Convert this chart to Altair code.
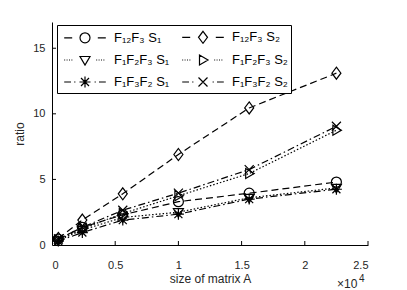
import re
import altair as alt
import pandas as pd

# ---- data ----
sizes = [500, 2400, 5600, 10000, 15600, 22500]
# legend is filled column by column: first column S1, second column S2
series = ["F₁₂F₃ S₁", "F₁F₂F₃ S₁", "F₁F₃F₂ S₁", "F₁₂F₃ S₂", "F₁F₂F₃ S₂", "F₁F₃F₂ S₂"]
r_f12f3_s1 = [0.45, 1.35, 2.3, 3.3, 3.95, 4.8]
r_f1f2f3_s1 = [0.35, 1.15, 2.1, 2.5, 3.6, 4.35]
r_f1f3f2_s1 = [0.3, 0.95, 1.9, 2.35, 3.5, 4.25]
r_f12f3_s2 = [0.5, 1.9, 3.9, 6.9, 10.45, 13.1]
r_f1f2f3_s2 = [0.4, 1.25, 2.4, 3.75, 5.45, 8.75]
r_f1f3f2_s2 = [0.45, 1.35, 2.65, 3.95, 5.75, 9.05]
x_ticks = [5000, 10000, 15000, 20000, 25000]
y_ticks = [5, 10, 15]

values = [r_f12f3_s1, r_f1f2f3_s1, r_f1f3f2_s1, r_f12f3_s2, r_f1f2f3_s2, r_f1f3f2_s2]
rows = []
for name, vals in zip(series, values):
    for s, v in zip(sizes, vals):
        rows.append({"series": name, "size": s, "ratio": v})
df = pd.DataFrame(rows)

# ---- styles (marker paths in unit coords) ----
circle = "M0.5,0A0.5,0.5 0 1,1 -0.5,0A0.5,0.5 0 1,1 0.5,0Z"
diamond = "M0,-0.6L0.45,0L0,0.6L-0.45,0Z"
tri_down = "M-0.5,-0.35L0.5,-0.35L0,0.5Z"
tri_right = "M-0.35,-0.5L-0.35,0.5L0.5,0Z"
aster = "M-0.55,0L0.55,0M0,-0.55L0,0.55M-0.4,-0.4L0.4,0.4M-0.4,0.4L0.4,-0.4"
xmark = "M-0.45,-0.45L0.45,0.45M-0.45,0.45L0.45,-0.45"
markers = [circle, tri_down, aster, diamond, tri_right, xmark]
dash_d, dash_o, dash_dd = [7, 4], [1.5, 2], [7, 3, 1.5, 3]
dashes = [dash_d, dash_o, dash_dd, dash_d, dash_o, dash_dd]


def mk(k, path, dx=0.0):
    """scale a path by k and shift it by dx (x only, absolute commands)."""
    parts = re.split(r"([MLHVAZh])", path)
    res, cmd = "", ""
    for p in parts:
        if p in ("M", "L", "H", "V", "A", "Z", "h"):
            cmd = p
            res += p
            continue
        if not p.strip():
            continue
        nums = [float(n) for n in re.split(r"[ ,]", p.strip()) if n]
        if cmd == "A":
            r = [nums[0] * k, nums[1] * k, nums[2], nums[3], nums[4], nums[5] * k + dx, nums[6] * k]
            res += f"{r[0]:.4g},{r[1]:.4g} {r[2]:g} {r[3]:g},{r[4]:g} {r[5]:.4g},{r[6]:.4g}"
        elif cmd == "H":
            res += ",".join(f"{n * k + dx:.4g}" for n in nums)
        elif cmd == "h":
            res += ",".join(f"{n * k:.4g}" for n in nums)
        else:
            out = []
            for j, n in enumerate(nums):
                out.append(f"{n * k + (dx if j % 2 == 0 else 0):.4g}")
            res += ",".join(out)
    return res


PT_SIZE = 400          # plot markers: unit = 10 px
LG_SIZE = 256          # legend symbol area: unit = 8 px
kk = 10 / 8            # keep legend markers as big as plot markers
SHIFT = 2.0            # push legend glyph to the right inside its symbol slot
line_dash = "M-2.6,0H-1.6M1.6,0H2.6"
line_dot = "".join(f"M{-2.6 + 0.3 * i:.2f},0h0.12" for i in range(4)) + "".join(
    f"M{1.4 + 0.3 * i:.2f},0h0.12" for i in range(4))
line_dashdot = "M-2.6,0H-1.75M-1.35,0H-1.2M1.2,0H1.35M1.75,0H2.6"
legend_lines = [line_dash, line_dot, line_dashdot, line_dash, line_dot, line_dashdot]
legend_paths = [mk(1.0, ln, SHIFT) + mk(kk, m, SHIFT) for ln, m in zip(legend_lines, markers)]

W, H = 316, 223
FONT = "Liberation Sans"
GREY = "#262626"

xs = alt.X("size:Q", scale=alt.Scale(domain=[0, 25000], nice=False),
           axis=alt.Axis(values=[0] + x_ticks, labelExpr="datum.value / 10000",
                         title="size of matrix A"))
ys = alt.Y("ratio:Q", scale=alt.Scale(domain=[0, 17], nice=False),
           axis=alt.Axis(values=[0] + y_ticks, title="ratio"))

base = alt.Chart(df)
lines = base.mark_line(color="black", strokeWidth=1.2).encode(
    x=xs, y=ys,
    strokeDash=alt.StrokeDash("series:N", scale=alt.Scale(domain=series, range=dashes), legend=None),
)
points = base.mark_point(filled=False, color="black", strokeWidth=1.2, size=PT_SIZE, opacity=1).encode(
    x=xs, y=ys,
    shape=alt.Shape("series:N", scale=alt.Scale(domain=series, range=markers), legend=None),
)
legend_layer = base.mark_point(filled=False, color="black", strokeWidth=1.2, size=LG_SIZE, opacity=1).encode(
    shape=alt.Shape("series:N", scale=alt.Scale(domain=series, range=legend_paths),
                    legend=alt.Legend(orient="none", legendX=5, legendY=3, columns=2, title=None,
                                      symbolSize=LG_SIZE, symbolStrokeWidth=1.2,
                                      symbolStrokeColor="black", symbolFillColor="transparent",
                                      labelFont=FONT, labelFontSize=13, labelColor="black",
                                      labelOffset=36, padding=3, rowPadding=5, columnPadding=8,
                                      strokeColor="black", fillColor="white",
                                      labelLimit=200)),
).transform_filter("false")

xtick_df = pd.DataFrame({"t": x_ticks})
ytick_df = pd.DataFrame({"t": y_ticks})
xt = alt.Chart(xtick_df).mark_rule(color="black", strokeWidth=1).encode(
    x=alt.X("t:Q", scale=alt.Scale(domain=[0, 25000], nice=False)),
    y=alt.value(H), y2=alt.value(H - 4))
yt = alt.Chart(ytick_df).mark_rule(color="black", strokeWidth=1).encode(
    y=alt.Y("t:Q", scale=alt.Scale(domain=[0, 17], nice=False)),
    x=alt.value(0), x2=alt.value(4))

exp_text = alt.Chart(pd.DataFrame({"s": ["×10"]})).mark_text(
    font=FONT, fontSize=12, color=GREY, align="left", baseline="alphabetic").encode(
    text="s:N", x=alt.value(285), y=alt.value(266))
exp_sup = alt.Chart(pd.DataFrame({"s": ["4"]})).mark_text(
    font=FONT, fontSize=10, color=GREY, align="left", baseline="alphabetic").encode(
    text="s:N", x=alt.value(307), y=alt.value(260))

chart = alt.layer(lines, points, legend_layer, xt, yt, exp_text, exp_sup).resolve_scale(
    shape="independent", strokeDash="independent"
).properties(
    width=W, height=H,
    autosize=alt.AutoSizeParams(type="none"),
    padding={"left": 44, "top": 14, "right": 30, "bottom": 45},
).configure_view(stroke=None).configure_axis(
    domainColor="black", domainWidth=1, tickSize=0, grid=False,
    labelFont=FONT, labelFontSize=11, labelColor=GREY,
    titleFont=FONT, titleFontSize=12, titleColor=GREY, titleFontWeight="normal",
).configure_axisX(labelPadding=14, titlePadding=3).configure_axisY(labelPadding=7, titlePadding=6)

chart.save("out.html", embed_options={"renderer": "svg", "actions": False})
